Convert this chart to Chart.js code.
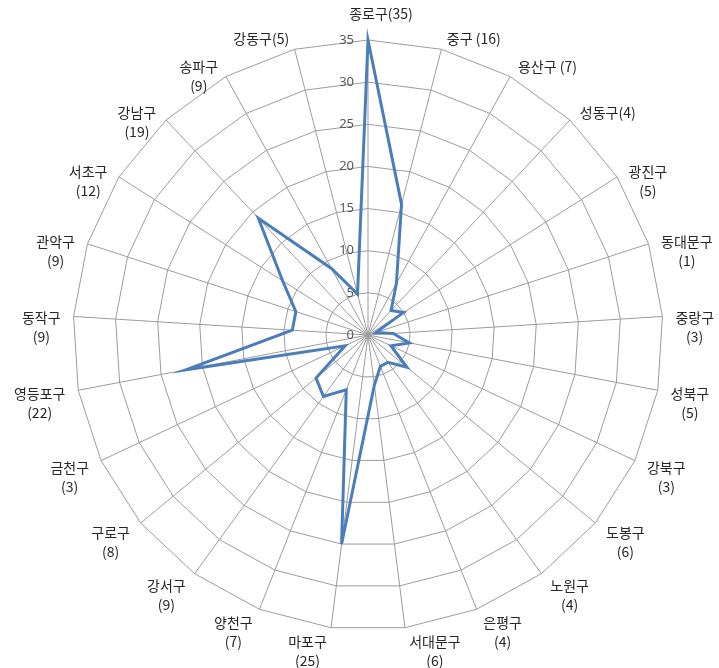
<!DOCTYPE html>
<html>
<head>
<meta charset="utf-8">
<script src="https://cdn.jsdelivr.net/npm/chart.js@4"></script>
<style>
body { margin: 0; background: #fff; }
</style>
</head>
<body>
<canvas id="seoulChart" width="719" height="668"></canvas>
<script>

// districts, clockwise from the top
const districts = ["종로구","중구","용산구","성동구","광진구","동대문구","중랑구","성북구","강북구","도봉구","노원구","은평구","서대문구","마포구","양천구","강서구","구로구","금천구","영등포구","동작구","관악구","서초구","강남구","송파구","강동구"];

const counts = [35,16,7,4,5,1,3,5,3,6,4,4,6,25,7,9,8,3,22,9,9,12,19,9,5];

// label text as shown on the chart
const pointLabels = [
["종로구(35)"],["중구 (16)"],["용산구 (7)"],["성동구(4)"],
["광진구","(5)"],["동대문구","(1)"],["중랑구","(3)"],["성북구","(5)"],
["강북구","(3)"],["도봉구","(6)"],["노원구","(4)"],["은평구","(4)"],
["서대문구","(6)"],["마포구","(25)"],["양천구","(7)"],["강서구","(9)"],
["구로구","(8)"],["금천구","(3)"],["영등포구","(22)"],["동작구","(9)"],
["관악구","(9)"],["서초구","(12)"],["강남구","(19)"],["송파구","(9)"],
["강동구(5)"]
];

const tickValues = [0,5,10,15,20,25,30,35];

// tick numbers to the left of the vertical axis
const tickPlugin = {
id: "tickText",
beforeDatasetsDraw(chart){
const r = chart.scales.r;
const ctx = chart.ctx;
ctx.save();
ctx.font = '13px "Noto Sans"';
ctx.fillStyle = "#595959";
ctx.textAlign = "right";
ctx.textBaseline = "middle";
tickValues.forEach(v => {
let d = r.getDistanceFromCenterForValue(v);
ctx.fillText(String(v), r.xCenter - 14, r.yCenter - d);
});
ctx.restore();
}
};

// district labels, lines centred in each block
const labelPlugin = {
id: "districtText",
afterDraw(chart){
const r = chart.scales.r;
const ctx = chart.ctx;
ctx.save();
ctx.font = '14px "Noto Sans CJK KR"';
ctx.fillStyle = "#262626";
ctx.textAlign = "center";
ctx.textBaseline = "middle";
pointLabels.forEach((lines, i) => {
let p = r.getPointPosition(i, r.drawingArea);
let cos = Math.cos(p.angle);
let sin = Math.sin(p.angle);
let w = Math.max(...lines.map(t => ctx.measureText(t).width));
let left;
if(Math.abs(cos) < 0.01) left = p.x - w / 2 + 13; // top label sits a bit right of the axis
else if(cos > 0) left = p.x + 3 + 10 * cos;
else left = p.x - 3 - 10 * Math.abs(cos) - w;
let y = p.y + 1.5 + 12.5 * sin;
if(Math.abs(cos) < 0.01 && sin < 0) y = p.y - 26;
lines.forEach((t, k) => {
ctx.fillText(t, left + w / 2, y + k * 19);
});
});
ctx.restore();
}
};

new Chart(document.getElementById("seoulChart"), {
type: "radar",
data: {
labels: districts,
datasets: [{
data: counts,
borderColor: "#4a7ebb",
borderWidth: 3,
fill: false,
pointRadius: 0,
tension: 0
}]
},
options: {
responsive: false,
animation: false,
layout: {
padding: { left: 73, right: 56, top: 40, bottom: 38 }
},
plugins: {
legend: { display: false },
tooltip: { enabled: false }
},
scales: {
r: {
min: 0,
max: 35,
ticks: { stepSize: 5, display: false },
grid: { color: "#9c9c9c", lineWidth: 1 },
angleLines: { color: "#9c9c9c", lineWidth: 1 },
pointLabels: { display: false }
}
}
},
plugins: [tickPlugin, labelPlugin]
});

</script>
</body>
</html>
